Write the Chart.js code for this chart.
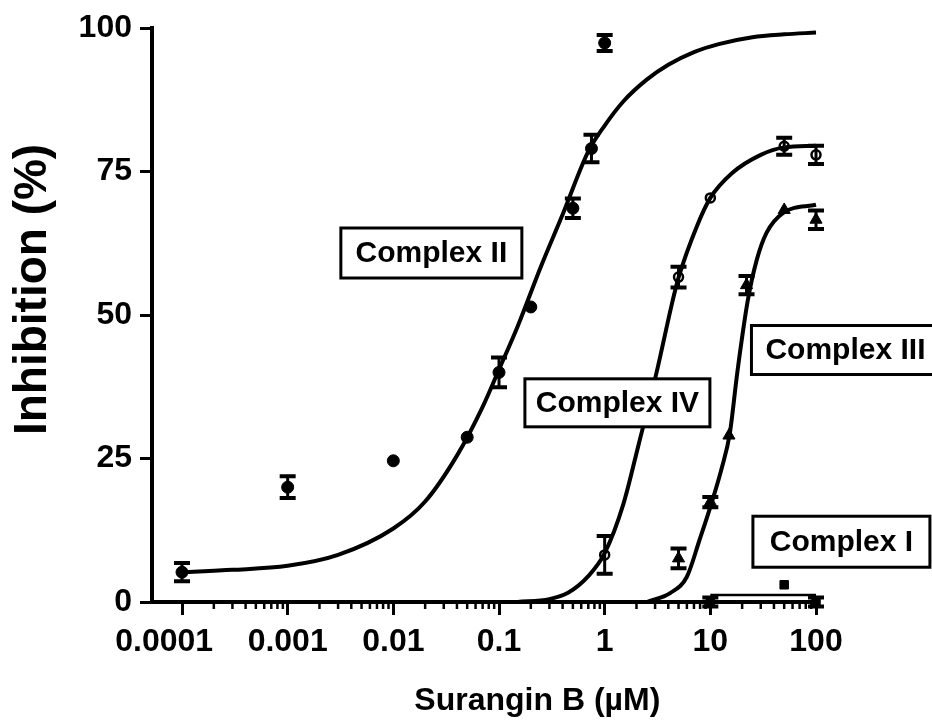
<!DOCTYPE html>
<html>
<head>
<meta charset="utf-8">
<script src="https://cdn.jsdelivr.net/npm/chart.js@4.4.1/dist/chart.umd.min.js"></script>
<style>
  html, body { margin: 0; padding: 0; background: #fff; }
  #wrap { width: 932px; height: 722px; }
</style>
</head>
<body>
<div id="wrap"><canvas id="chart" width="932" height="722"></canvas></div>
<script>
// Surangin B (uM) vs inhibition (%) for the respiratory chain complexes

// Complex II - filled circles
const c2Conc  = [0.0001, 0.001, 0.01, 0.05, 0.1, 0.2, 0.5, 0.75, 1];
const c2Inhib = [5.2, 20, 24.6, 28.7, 40, 51.4, 68.6, 79, 97.4];
const c2Err   = [1.6, 1.9, 0, 0, 2.6, 0, 1.7, 2.4, 1.4];
const c2FitX  = [0.0001, 0.0003, 0.001, 0.003, 0.01, 0.02, 0.04, 0.07, 0.1, 0.15, 0.25, 0.4, 0.7, 1, 1.5, 2.5, 4, 7, 12, 25, 50, 100];
const c2FitY  = [5.2, 5.6, 6.3, 8.2, 12.8, 17.5, 25.5, 34, 40.5, 48, 58.5, 67.5, 78.5, 83, 87.2, 91, 93.6, 95.8, 97.2, 98.4, 98.9, 99.2];

// Complex IV - open circles
const c4Conc  = [1, 5, 10, 50, 100];
const c4Inhib = [8.2, 56.6, 70.4, 79.4, 77.9];
const c4Err   = [3.3, 1.8, 0, 1.5, 1.6];
const c4FitX  = [0.15, 0.3, 0.45, 0.7, 1, 1.5, 2.1, 3.1, 4.4, 5, 7.4, 10, 16, 30, 50, 100];
const c4FitY  = [0, 0.5, 1.6, 4.5, 8.5, 17, 27.5, 40, 52.5, 56.5, 65.3, 70.4, 74.7, 77.9, 79.2, 79.5];

// Complex III - filled triangles
const c3Conc  = [5, 10, 15, 22, 50, 100];
const c3Inhib = [7.6, 17.4, 29, 55.2, 68.3, 66.6];
const c3Err   = [1.7, 0.9, 0, 1.6, 0, 1.6];
const c3FitX  = [2.5, 4.2, 6, 7.9, 10.5, 12.9, 15.3, 18, 22.6, 27.5, 34, 49, 100];
const c3FitY  = [0, 1.6, 4.4, 10.8, 17.8, 23.5, 29.4, 40, 52.5, 59.6, 64.3, 67.8, 69.2];

// Complex I - filled squares
const c1Conc  = [10, 50, 100];
const c1Inhib = [0, 3, 0];
const c1Err   = [0.8, 0, 0.8];
const c1FitX  = [10, 100];
const c1FitY  = [1.2, 1.2];

// axes
const xTicks  = [0.0001, 0.001, 0.01, 0.1, 1, 10, 100];
const xLabels = ['0.0001    ', '0.001', '0.01', '0.1', '1', '10', '100'];
const yTicks  = [0, 25, 50, 75, 100];

// box labels, anchored in data coordinates
const boxText = ['Complex II', 'Complex IV', 'Complex III', 'Complex I'];
const boxAt   = [[0.0229, 60.8], [1.32, 34.7], [190, 43.9], [174, 10.5]];
const boxSize = [[181, 50], [185, 48], [188, 49], [177, 51]];

const pts = (xs, ys) => xs.map((v, i) => ({x: v, y: ys[i]}));

const minorTicks = [];
xTicks.slice(0, -1).forEach(d => {
  for (let k = 2; k <= 9; k++) minorTicks.push(d * k);
});

const black = '#000';
const sans = '"Liberation Sans", Arial, sans-serif';

function fitLine(xs, ys, w) {
  return {
    data: pts(xs, ys), showLine: true, borderColor: black, borderWidth: w || 4,
    pointRadius: 0, cubicInterpolationMode: 'monotone', clip: false
  };
}

const errorBars = {
  id: 'errorBars',
  afterDatasetsDraw(chart) {
    const {ctx, scales: {x, y}} = chart;
    ctx.save();
    ctx.strokeStyle = black;
    chart.data.datasets.forEach(ds => {
      if (!ds.errors) return;
      ds.data.forEach((p, i) => {
        const e = ds.errors[i];
        if (!e) return;
        const px = x.getPixelForValue(p.x);
        const top = y.getPixelForValue(p.y + e);
        const bot = y.getPixelForValue(p.y - e);
        ctx.lineWidth = 3;
        ctx.beginPath();
        ctx.moveTo(px, top); ctx.lineTo(px, bot);
        ctx.stroke();
        ctx.lineWidth = 4;
        ctx.beginPath();
        ctx.moveTo(px - 8, top); ctx.lineTo(px + 8, top);
        ctx.moveTo(px - 8, bot); ctx.lineTo(px + 8, bot);
        ctx.stroke();
      });
    });
    ctx.restore();
  }
};

const minorTickMarks = {
  id: 'minorTickMarks',
  afterDraw(chart) {
    const {ctx, scales: {x}} = chart;
    ctx.save();
    ctx.strokeStyle = black;
    ctx.lineWidth = 2.5;
    ctx.beginPath();
    minorTicks.forEach(v => {
      const px = x.getPixelForValue(v);
      ctx.moveTo(px, x.top);
      ctx.lineTo(px, x.top + 7);
    });
    ctx.stroke();
    ctx.restore();
  }
};

const boxLabels = {
  id: 'boxLabels',
  afterDraw(chart) {
    const {ctx, scales: {x, y}} = chart;
    ctx.save();
    ctx.font = 'bold 30px ' + sans;
    ctx.textAlign = 'center';
    ctx.textBaseline = 'middle';
    boxText.forEach((t, i) => {
      const cx = x.getPixelForValue(boxAt[i][0]);
      const cy = y.getPixelForValue(boxAt[i][1]);
      const [w, h] = boxSize[i];
      ctx.fillStyle = '#fff';
      ctx.fillRect(cx - w / 2, cy - h / 2, w, h);
      ctx.strokeStyle = black;
      ctx.lineWidth = 3;
      ctx.strokeRect(cx - w / 2, cy - h / 2, w, h);
      ctx.fillStyle = black;
      ctx.fillText(t, cx, cy + 1);
    });
    ctx.restore();
  }
};

new Chart(document.getElementById('chart'), {
  type: 'scatter',
  data: {
    datasets: [
      fitLine(c2FitX, c2FitY),
      fitLine(c4FitX, c4FitY),
      fitLine(c3FitX, c3FitY),
      fitLine(c1FitX, c1FitY, 2.5),
      { data: pts(c2Conc, c2Inhib), errors: c2Err, pointStyle: 'circle', pointRadius: 6,
        backgroundColor: black, borderColor: black, borderWidth: 1, clip: false },
      { data: pts(c4Conc, c4Inhib), errors: c4Err, pointStyle: 'circle', pointRadius: 4.5,
        backgroundColor: '#fff', borderColor: black, borderWidth: 2.5, clip: false },
      { data: pts(c3Conc, c3Inhib), errors: c3Err, pointStyle: 'triangle', pointRadius: 7,
        backgroundColor: black, borderColor: black, borderWidth: 1, clip: false },
      { data: pts(c1Conc, c1Inhib), errors: c1Err, pointStyle: 'rect', pointRadius: 6,
        backgroundColor: black, borderColor: black, borderWidth: 1, clip: false }
    ]
  },
  options: {
    responsive: false,
    animation: false,
    devicePixelRatio: 1,
    layout: { padding: { left: 0, top: 28, right: 116, bottom: 0 } },
    plugins: { legend: { display: false }, tooltip: { enabled: false } },
    scales: {
      x: {
        type: 'logarithmic',
        min: 0.000052,
        max: 100,
        afterBuildTicks: s => { s.ticks = xTicks.map(v => ({value: v})); },
        afterFit: s => { s.height = 120; },
        ticks: {
          color: black,
          padding: 8,
          autoSkip: false,
          maxRotation: 0,
          font: { family: sans, size: 32, weight: 'bold' },
          callback: (v, i) => xLabels[i]
        },
        grid: { drawOnChartArea: false, tickLength: 13, tickWidth: 3, tickColor: black },
        border: { color: black, width: 4 },
        title: {
          display: true, text: '            Surangin B (µM)', color: black,
          font: { family: sans, size: 32, weight: 'bold' },
          padding: { top: 0, bottom: 2 }
        }
      },
      y: {
        min: 0,
        max: 100,
        afterBuildTicks: s => { s.ticks = yTicks.map(v => ({value: v})); },
        afterFit: s => { s.width = 152; },
        ticks: {
          color: black,
          padding: 8,
          font: { family: sans, size: 32, weight: 'bold' }
        },
        grid: { drawOnChartArea: false, tickLength: 12, tickWidth: 3, tickColor: black },
        border: { color: black, width: 4 },
        title: {
          display: true, text: '    Inhibition (%)', color: black,
          font: { family: sans, size: 46, weight: 'bold' },
          padding: { top: 6, bottom: 0 }
        }
      }
    }
  },
  plugins: [errorBars, minorTickMarks, boxLabels]
});
</script>
</body>
</html>
